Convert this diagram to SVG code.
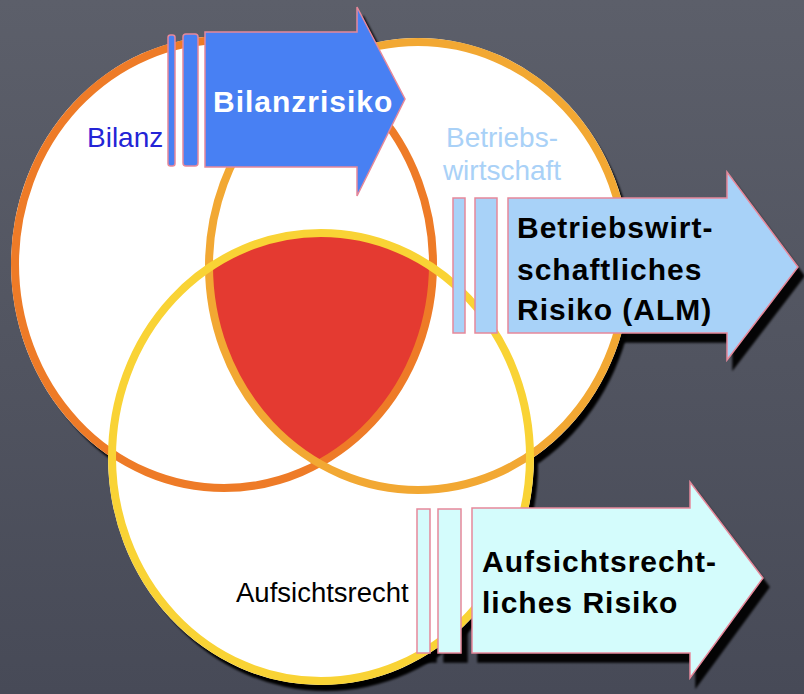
<svg xmlns="http://www.w3.org/2000/svg" width="804" height="694" viewBox="0 0 804 694">
<defs>
<linearGradient id="bg" x1="0" y1="0" x2="0" y2="1">
<stop offset="0" stop-color="#5C5F6A"/>
<stop offset="1" stop-color="#474A57"/>
</linearGradient>
<filter id="shonly" x="-10%" y="-10%" width="130%" height="130%">
<feOffset in="SourceAlpha" dx="6" dy="9" result="o"/>
<feGaussianBlur in="o" stdDeviation="0.8" result="b"/>
<feFlood flood-color="#000" flood-opacity="0.95"/>
<feComposite in2="b" operator="in"/>
</filter>
<filter id="blur" x="-10%" y="-10%" width="120%" height="120%">
<feGaussianBlur stdDeviation="1"/>
</filter>
<clipPath id="k1"><ellipse cx="224" cy="264" rx="209" ry="224"/></clipPath>
<clipPath id="k2"><ellipse cx="418" cy="266" rx="209" ry="224"/></clipPath>
<style>
.fillw{fill:#fff;stroke:none}
.ring{fill:none;stroke-width:8}
.edge{stroke:#E6889A;stroke-width:1.5;stroke-linejoin:miter}
.lab{font-family:"Liberation Sans",Arial,sans-serif;font-size:28px}
.big{font-family:"Liberation Sans",Arial,sans-serif;font-size:30px;font-weight:bold;letter-spacing:1px}
</style>
</defs>
<rect id="background" x="0" y="0" width="804" height="694" fill="url(#bg)"/>

<g id="arrow-shadows">
<use href="#a1-shape" filter="url(#shonly)"/>
<use href="#a2-shape" filter="url(#shonly)"/>
<use href="#a3-shape" filter="url(#shonly)"/>
</g>

<g id="venn">
<g id="venn-shadow" fill="#000" filter="url(#blur)">
<ellipse cx="229" cy="271" rx="212" ry="227"/>
<ellipse cx="423" cy="273" rx="212" ry="227"/>
<ellipse cx="326" cy="464" rx="212" ry="227"/>
</g>
<ellipse class="fillw" cx="224" cy="264" rx="213" ry="228"/>
<ellipse class="fillw" cx="418" cy="266" rx="213" ry="228"/>
<ellipse class="fillw" cx="321" cy="457" rx="213" ry="228"/>
<g id="schnittmenge" clip-path="url(#k1)"><g clip-path="url(#k2)">
<ellipse cx="321" cy="457" rx="209" ry="224" fill="#E43A31"/>
</g></g>
<g id="kreis-bilanz"><ellipse class="ring" cx="224" cy="264" rx="209" ry="224" stroke="#EE7B27"/></g>
<g id="kreis-betriebswirtschaft"><ellipse class="ring" cx="418" cy="266" rx="209" ry="224" stroke="#F2A833"/></g>
<g id="kreis-aufsichtsrecht"><ellipse class="ring" cx="321" cy="457" rx="209" ry="224" stroke="#F9D335"/></g>
<text class="lab" x="87" y="147" fill="#2424D6">Bilanz</text>
<text class="lab" x="502" y="147" fill="#A9D1F7" text-anchor="middle">Betriebs-</text>
<text class="lab" x="502" y="180" fill="#A9D1F7" text-anchor="middle">wirtschaft</text>
<text class="lab" x="236" y="602" fill="#000" style="font-size:27.5px">Aufsichtsrecht</text>
</g>

<g id="pfeil-bilanzrisiko">
<g id="a1-shape" fill="#4880F3">
<rect class="edge" x="168" y="35" width="7" height="131" rx="2.5"/>
<rect class="edge" x="183" y="34" width="15" height="132" rx="3"/>
<path class="edge" d="M205,32 H357 V7 L405,99 L357,196 V167 H205 Z"/>
</g>
<text class="big" x="213" y="112" fill="#fff">Bilanzrisiko</text>
</g>

<g id="pfeil-betriebswirtschaftliches-risiko">
<g id="a2-shape" fill="#A8D2F8">
<rect class="edge" x="453" y="198" width="12" height="135"/>
<rect class="edge" x="475" y="198" width="22" height="135"/>
<path class="edge" d="M508,198 H727 V172 L798,267 L727,360 V333 H508 Z"/>
</g>
<text class="big" x="517" y="238" fill="#000">Betriebswirt-</text>
<text class="big" x="517" y="280" fill="#000">schaftliches</text>
<text class="big" x="517" y="320" fill="#000">Risiko (ALM)</text>
</g>

<g id="pfeil-aufsichtsrechtliches-risiko">
<g id="a3-shape" fill="#D4FCFC">
<rect class="edge" x="417" y="509" width="13" height="144"/>
<rect class="edge" x="438" y="509" width="23" height="144"/>
<path class="edge" d="M472,508 H690 V482 L763,578 L690,678 V653 H472 Z"/>
</g>
<text class="big" x="482" y="572" fill="#000">Aufsichtsrecht-</text>
<text class="big" x="482" y="613" fill="#000">liches Risiko</text>
</g>
</svg>
